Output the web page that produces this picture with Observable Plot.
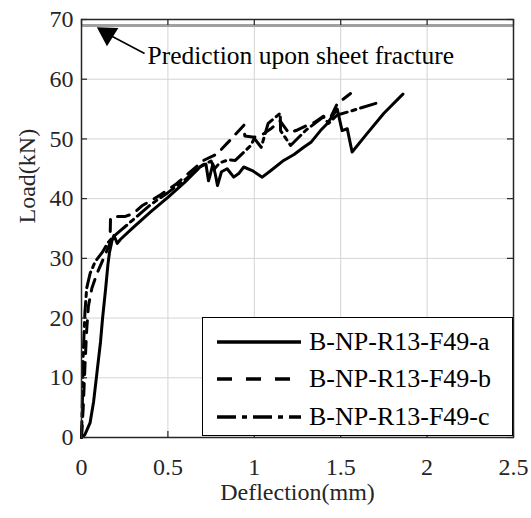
<!DOCTYPE html>
<html><head><meta charset="utf-8">
<script src="https://cdn.jsdelivr.net/npm/d3@7"></script>
<script src="https://cdn.jsdelivr.net/npm/@observablehq/plot@0.6"></script>
<style>
body{margin:0;background:#fff;}
#chart{position:relative;width:531px;height:518px;font-family:"Liberation Serif","Times New Roman",Times,serif;}
#legend{position:absolute;left:202px;top:317px;width:311px;height:119px;box-sizing:border-box;border:1.5px solid #000;background:#fff;}
#legend .row{position:absolute;left:0;height:30px;display:flex;align-items:center;font-size:26px;color:#000;white-space:nowrap;}
#legend svg{margin-left:14px;margin-right:8px;}
</style></head><body><div id="chart"><div id="legend"></div></div>
<script>
const xTicks = [0, 0.5, 1, 1.5, 2, 2.5];
const yTicks = [0, 10, 20, 30, 40, 50, 60, 70];
const seriesNames = ["B-NP-R13-F49-a", "B-NP-R13-F49-b", "B-NP-R13-F49-c"];
const xLabel = "Deflection(mm)";
const yLabel = "Load(kN)";
const predictionLoad = 69;
const annText = "Prediction upon sheet fracture";
const annTextPos = [0.382, 64.0];
const arrowTail = [0.365, 64.3];
const arrowTip = [0.11, 68.2];
const arrowHead = [0.15, 67.6];

const xA = [0,0.02,0.05,0.07,0.09,0.11,0.122,0.14,0.153,0.162,0.177,0.187,0.197,0.207,0.226,0.3,0.4,0.5,0.6,0.689,0.72,0.735,0.745,0.76,0.775,0.787,0.81,0.843,0.881,0.91,0.939,0.988,1.046,1.1,1.17,1.23,1.286,1.33,1.383,1.42,1.48,1.508,1.538,1.566,1.65,1.75,1.86];
const yA = [0,0.5,2.5,6,11,16,20,25,29,31,33,33.8,33.2,32.5,33.2,35.2,37.8,40.2,42.8,45.4,45.8,43,44,45.8,44,42.2,44.5,45,43.6,44.2,45.3,44.7,43.6,44.8,46.4,47.4,48.6,49.5,51.4,52.5,55,51.4,51.7,47.8,50.8,54.3,57.5];

const xB = [0,0.01,0.02,0.03,0.04,0.06,0.09,0.12,0.15,0.165,0.168,0.19,0.25,0.3,0.35,0.45,0.55,0.65,0.706,0.785,0.86,0.94,0.945,1.0,1.05,1.1,1.15,1.2,1.25,1.3,1.35,1.4,1.44,1.48,1.557];
const yB = [0,5,12,18,22,25,27.5,29.5,31.5,32.5,36.8,37,37,37.5,38.8,40.5,42.5,45,46.4,47.5,49.8,52.3,50.5,50.3,50.8,51.8,53,51,51.5,52.2,52.8,53.8,53.5,55.9,57.6];

const xC = [0,0.005,0.01,0.02,0.03,0.05,0.08,0.12,0.15,0.18,0.22,0.3,0.4,0.5,0.6,0.7,0.75,0.77,0.8,0.85,0.89,0.98,1.0,1.04,1.08,1.15,1.152,1.21,1.3,1.4,1.43,1.48,1.54,1.73];
const yC = [0,6,14,21,25,27.5,29.5,31,32.5,33.5,34.5,36.5,39,41,43.2,45.6,46.3,45,46,46.5,46.4,48.9,50.1,48.6,52.6,54.3,51.4,48.9,51.5,53.7,52.6,54,54.5,56.2];

const dashes = [null, "12,9", "16,5,4,5"];
const seriesX = [xA, xB, xC];
const seriesY = [yA, yB, yC];

const data = [];
seriesNames.forEach((name, i) => seriesX[i].forEach((x, j) => data.push({series: name, x, y: seriesY[i][j]})));

const W = 531, H = 518, mL = 81, mR = 18, mT = 19, mB = 81;
const plotW = W - mL - mR, plotH = H - mT - mB;
const FONT = '"Liberation Serif","Times New Roman",Times,serif';

const lineMarks = seriesNames.map((name, i) =>
  Plot.line(data.filter(d => d.series === name), {x: "x", y: "y", stroke: "#000", strokeWidth: 3, strokeDasharray: dashes[i] || undefined, strokeLinejoin: "round"}));

const chart = Plot.plot({
  width: W, height: H,
  marginLeft: mL, marginRight: mR, marginTop: mT, marginBottom: mB,
  x: {domain: [0, 2.5]},
  y: {domain: [0, 70]},
  style: {fontFamily: FONT, fontSize: "24px", color: "#262626", background: "#fff"},
  marks: [
    Plot.gridX(xTicks, {stroke: "#d4d4d4", strokeOpacity: 1, strokeWidth: 1}),
    Plot.gridY(yTicks, {stroke: "#d4d4d4", strokeOpacity: 1, strokeWidth: 1}),
    Plot.ruleY([predictionLoad], {x1: 0, x2: 2.5, stroke: "#a0a0a0", strokeWidth: 3}),
    ...lineMarks,
    Plot.link([{x1: arrowTail[0], y1: arrowTail[1], x2: arrowTip[0], y2: arrowTip[1]}], {x1: "x1", y1: "y1", x2: "x2", y2: "y2", stroke: "#000", strokeWidth: 1.5}),
    Plot.dot([arrowHead], {x: d => d[0], y: d => d[1], symbol: "triangle", r: 8, fill: "#000", stroke: "none", rotate: -58}),
    Plot.text([annText], {x: annTextPos[0], y: annTextPos[1], text: d => d, textAnchor: "start", fontSize: 25.5, fontFamily: FONT, fill: "#000"}),
    Plot.frame({stroke: "#262626", strokeWidth: 1.5}),
    Plot.tickX(xTicks, {x: d => d, insetTop: plotH - 6, stroke: "#262626", strokeWidth: 1.2}),
    Plot.tickX(xTicks, {x: d => d, insetBottom: plotH - 6, stroke: "#262626", strokeWidth: 1.2}),
    Plot.tickY(yTicks, {y: d => d, insetRight: plotW - 6, stroke: "#262626", strokeWidth: 1.2}),
    Plot.tickY(yTicks, {y: d => d, insetLeft: plotW - 6, stroke: "#262626", strokeWidth: 1.2}),
    Plot.axisX(xTicks, {tickSize: 0, tickPadding: 20, label: null, fontSize: 24, fontFamily: FONT, fill: "#262626", tickFormat: d => String(d)}),
    Plot.axisY(yTicks, {tickSize: 0, tickPadding: 8, label: null, fontSize: 24, fontFamily: FONT, fill: "#262626", tickFormat: d => String(d)}),
    Plot.text([xLabel], {frameAnchor: "bottom", dy: 62, text: d => d, fontSize: 24, fontFamily: FONT, fill: "#262626"}),
    Plot.text([yLabel], {frameAnchor: "left", dx: -54, dy: -5, rotate: -90, text: d => d, fontSize: 24, fontFamily: FONT, fill: "#262626"})
  ]
});
const host = document.getElementById("chart");
host.insertBefore(chart, host.firstChild);

const legend = document.getElementById("legend");
const rowTops = [9, 46, 84];
seriesNames.forEach((name, i) => {
  const row = document.createElement("div");
  row.className = "row";
  row.style.top = rowTops[i] + "px";
  const svg = d3.create("svg").attr("width", 84).attr("height", 30);
  svg.append("line").attr("x1", 0).attr("x2", 84).attr("y1", 15).attr("y2", 15)
    .attr("stroke", "#000").attr("stroke-width", 3.5)
    .attr("stroke-dasharray", dashes[i] ? (i === 1 ? "15,14" : "19,6,5,6") : null);
  row.appendChild(svg.node());
  const span = document.createElement("span");
  span.textContent = name;
  row.appendChild(span);
  legend.appendChild(row);
});
</script>
</body></html>
